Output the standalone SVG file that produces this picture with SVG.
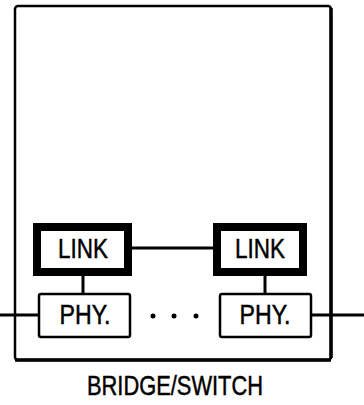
<svg xmlns="http://www.w3.org/2000/svg" width="364" height="405" viewBox="0 0 364 405">
<style>
.lbl{font-family:"Liberation Sans",Arial,sans-serif;font-size:28px;fill:#000;stroke:#000;stroke-width:0.5;text-anchor:middle}
.link{fill:#fff;stroke:#000;stroke-width:8}
.phy{fill:#fff;stroke:#000;stroke-width:2.5}
.ln{stroke:#000;stroke-width:3;fill:none}
</style>
<rect width="364" height="405" fill="#fff"/>
<g id="bridge">
<rect x="15" y="6" width="316" height="354" rx="3" fill="none" stroke="#000" stroke-width="2.5"/>
<line x1="331" y1="8" x2="331" y2="358" stroke="#000" stroke-width="3.5"/>
<line x1="15" y1="360" x2="331" y2="360" stroke="#000" stroke-width="3.5"/>
<text class="lbl" x="175" y="395" textLength="176" lengthAdjust="spacingAndGlyphs">BRIDGE/SWITCH</text>
</g>
<g id="connectors">
<line class="ln" x1="0" y1="315" x2="39" y2="315"/>
<line class="ln" x1="311" y1="315" x2="364" y2="315"/>
<line class="ln" x1="132" y1="248" x2="213" y2="248"/>
<line class="ln" x1="83" y1="276" x2="83" y2="293"/>
<line class="ln" x1="265" y1="276" x2="265" y2="293"/>
</g>
<g id="link1">
<rect class="link" x="37" y="227" width="91" height="45"/>
<text class="lbl" x="83" y="258" textLength="50" lengthAdjust="spacingAndGlyphs">LINK</text>
</g>
<g id="link2">
<rect class="link" x="217" y="227" width="86" height="45"/>
<text class="lbl" x="260" y="258" textLength="50" lengthAdjust="spacingAndGlyphs">LINK</text>
</g>
<g id="phy1">
<rect class="phy" x="39" y="294" width="91" height="43" rx="2"/>
<text class="lbl" x="85" y="324" textLength="51" lengthAdjust="spacingAndGlyphs">PHY.</text>
</g>
<g id="phy2">
<rect class="phy" x="220" y="294" width="91" height="43" rx="2"/>
<text class="lbl" x="265" y="324" textLength="51" lengthAdjust="spacingAndGlyphs">PHY.</text>
</g>
<g id="dots" fill="#000">
<circle cx="153" cy="316" r="2.5"/>
<circle cx="174" cy="316" r="2.5"/>
<circle cx="196" cy="316" r="2.5"/>
</g>
</svg>
